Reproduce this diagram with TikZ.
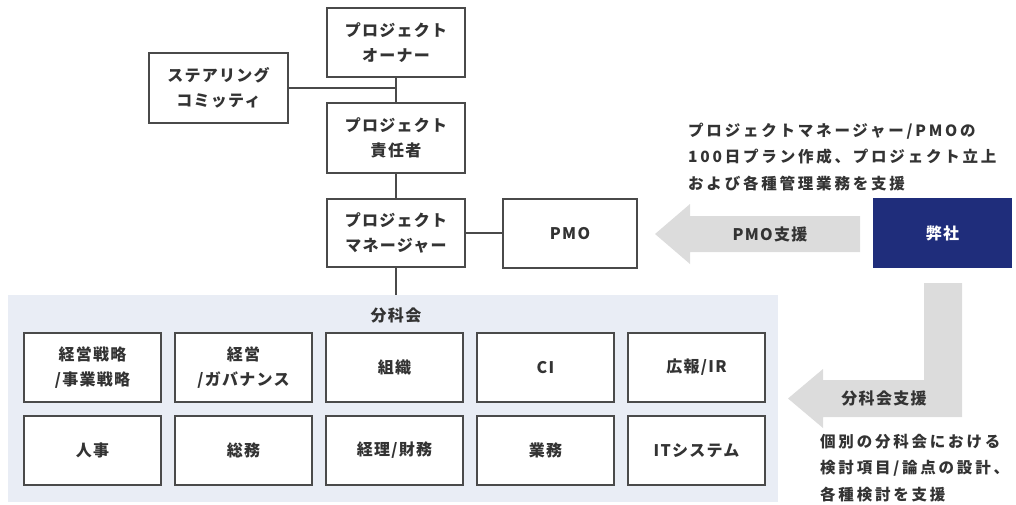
\documentclass[tikz,border=0pt]{standalone}
\usepackage{fontspec}
\setmainfont{Noto Sans CJK JP}
\newfontfamily\jp{Noto Sans CJK JP}[LetterSpace=8]
\newfontfamily\jpwide{Noto Sans CJK JP}[LetterSpace=18]
\definecolor{boxline}{HTML}{4A4A4A}
\definecolor{txt}{HTML}{333333}
\definecolor{panelbg}{HTML}{E9EDF5}
\definecolor{arrowgray}{HTML}{DCDCDC}
\definecolor{navy}{HTML}{1F2D7B}
\tikzset{
  box/.style={draw=boxline, line width=2.6pt, fill=white, inner sep=0pt,
    align=center, text=txt, font=\jp\bfseries\fontsize{16}{25}\selectfont},
  conn/.style={draw=boxline, line width=2pt},
  sidetext/.style={align=left, anchor=west, inner sep=0pt, text=txt,
    font=\jpwide\bfseries\fontsize{15.5}{26.5}\selectfont},
  arrowlabel/.style={inner sep=0pt, text=txt, font=\jp\bfseries\fontsize{16}{20}\selectfont},
}
\begin{document}
\begin{tikzpicture}[x=1pt,y=-1pt]
\useasboundingbox (0,0) rectangle (1016,505);
% panel
\node[fill=panelbg, inner sep=0pt, minimum width=770pt, minimum height=207pt] (panel) at (393,398.5) {};
\node[arrowlabel] (bunka) at (396,315) {分科会};
% top hierarchy
\node[box, minimum width=138pt, minimum height=69pt] (owner) at (396,42.5) {プロジェクト\\オーナー};
\node[box, minimum width=139pt, minimum height=70pt] (steer) at (218.5,88) {ステアリング\\コミッティ};
\node[box, minimum width=138pt, minimum height=70pt] (resp) at (396,138) {プロジェクト\\責任者};
\node[box, minimum width=138pt, minimum height=68pt] (pm) at (396,233) {プロジェクト\\マネージャー};
\node[box, minimum width=134pt, minimum height=69pt] (pmo) at (570,233.5) {PMO};
\node[fill=navy, inner sep=0pt, minimum width=139pt, minimum height=70pt, text=white,
  font=\jp\bfseries\fontsize{16}{20}\selectfont] (heisha) at (942.5,233) {弊社};
% connectors
\draw[conn] (owner.south) -- (resp.north);
\draw[conn] (resp.south) -- (pm.north);
\draw[conn] (steer.east) -- (steer.east -| owner.south);
\draw[conn] (pm.east) -- (pm.east -| pmo.west);
\draw[conn] (pm.south) -- (pm.south |- panel.north);
% grid
\foreach \t [count=\i from 0] in {{経営戦略\\/事業戦略},{経営\\/ガバナンス},{組織},{CI},{広報/IR}}{
  \node[box, minimum width=137pt, minimum height=69pt] (a\i) at (92.5+151*\i,367.5) {\t};
}
\foreach \t [count=\i from 0] in {{人事},{総務},{経理/財務},{業務},{ITシステム}}{
  \node[box, minimum width=137pt, minimum height=69pt] (b\i) at (92.5+151*\i,450.5) {\t};
}
% PMO arrow
\fill[arrowgray] (860,216) -- (690,216) -- (690,204) -- (655,234) -- (690,264) -- (690,252) -- (860,252) -- cycle;
\node[arrowlabel] (pmolabel) at (770,234) {PMO支援};
% L arrow
\fill[arrowgray] (962,283) -- (962,417) -- (823,417) -- (823,428) -- (788,398.5) -- (823,369) -- (823,380) -- (924,380) -- (924,283) -- cycle;
\node[arrowlabel] (bunkalabel) at (884,398.5) {分科会支援};
% side texts
\node[sidetext] (toptext) at (688,157) {プロジェクトマネージャー/PMOの\\100日プラン作成、プロジェクト立上\\および各種管理業務を支援};
\node[sidetext] (bottext) at (820,468) {個別の分科会における\\検討項目/論点の設計、\\各種検討を支援};
\end{tikzpicture}
\end{document}
